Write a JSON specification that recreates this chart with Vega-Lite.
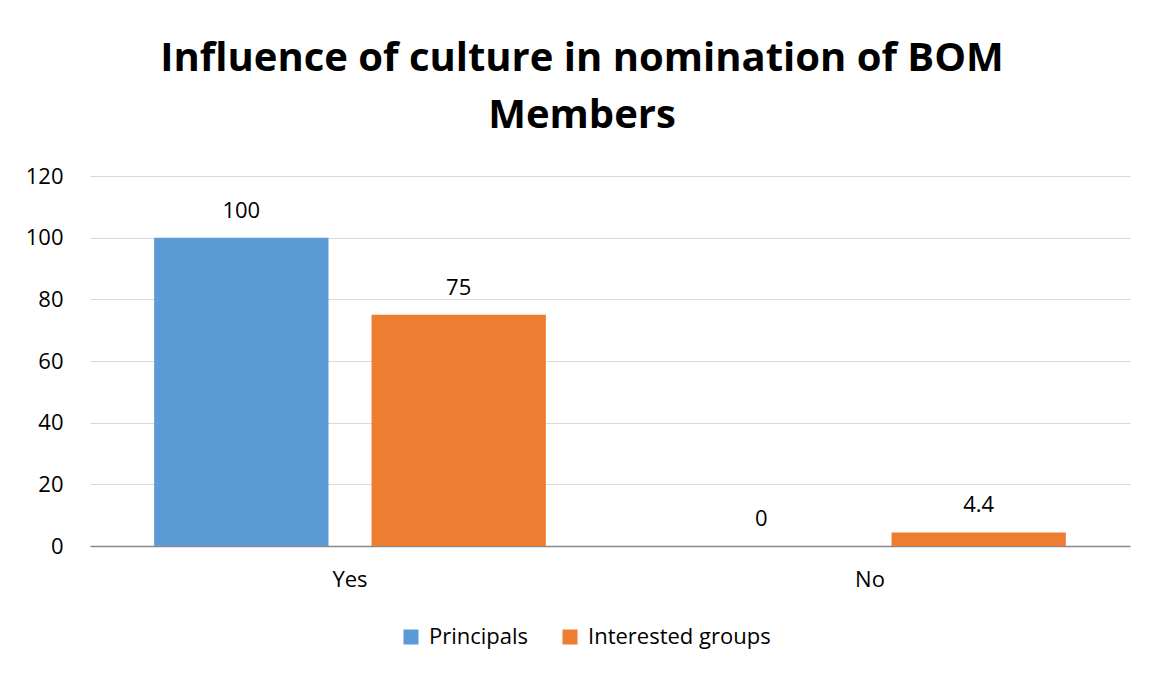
{
  "$schema": "https://vega.github.io/schema/vega-lite/v6.json",
  "width": 1040,
  "height": 370,
  "autosize": {"type": "none"},
  "padding": {"left": 90, "top": 176, "right": 28, "bottom": 128},
  "background": "white",
  "title": {
    "text": ["Influence of culture in nomination of BOM", "Members"],
    "anchor": "middle",
    "dx": -28,
    "offset": 29,
    "font": "Open Sans",
    "fontSize": 40,
    "fontWeight": "bold",
    "color": "#000000",
    "lineHeight": 57
  },
  "data": {
    "values": [
      {"category": "Yes", "series": "Principals", "value": 100},
      {"category": "Yes", "series": "Interested groups", "value": 75},
      {"category": "No", "series": "Principals", "value": 0},
      {"category": "No", "series": "Interested groups", "value": 4.4}
    ]
  },
  "encoding": {
    "x": {
      "field": "category",
      "type": "nominal",
      "sort": ["Yes", "No"],
      "scale": {"paddingInner": 0, "paddingOuter": 0},
      "axis": {
        "title": null,
        "labelAngle": 0,
        "labelFont": "Open Sans",
        "labelFontSize": 22,
        "labelColor": "#000000",
        "labelPadding": 23,
        "ticks": false,
        "domainColor": "#888888",
        "domainWidth": 1.5,
        "grid": false
      }
    },
    "xOffset": {
      "field": "series",
      "type": "nominal",
      "sort": ["Principals", "Interested groups"],
      "scale": {"paddingInner": 0.198, "paddingOuter": 0.295}
    },
    "y": {
      "field": "value",
      "type": "quantitative",
      "scale": {"domain": [0, 120]},
      "axis": {
        "title": null,
        "values": [0, 20, 40, 60, 80, 100, 120],
        "labelFont": "Open Sans",
        "labelFontSize": 22,
        "labelColor": "#000000",
        "labelPadding": 27,
        "ticks": false,
        "domain": false,
        "grid": true,
        "gridColor": "#D9D9D9",
        "gridWidth": 1.2
      }
    }
  },
  "layer": [
    {
      "mark": {"type": "bar"},
      "encoding": {
        "color": {
          "field": "series",
          "type": "nominal",
          "sort": ["Principals", "Interested groups"],
          "scale": {"domain": ["Principals", "Interested groups"], "range": ["#5B9BD5", "#ED7D31"]},
          "legend": {
            "title": null,
            "orient": "none",
            "legendX": 310,
            "legendY": 450,
            "direction": "horizontal",
            "symbolType": "square",
            "symbolSize": 225,
            "symbolStrokeWidth": 0,
            "labelFont": "Open Sans",
            "labelFontSize": 22,
            "labelColor": "#000000",
            "labelOffset": 7,
            "labelLimit": 400,
            "columnPadding": 30
          }
        }
      }
    },
    {
      "mark": {
        "type": "text",
        "dy": -20,
        "baseline": "alphabetic",
        "font": "Open Sans",
        "fontSize": 22,
        "color": "#000000"
      },
      "encoding": {
        "text": {"field": "value", "type": "quantitative"}
      }
    }
  ],
  "config": {
    "view": {"stroke": null}
  }
}
